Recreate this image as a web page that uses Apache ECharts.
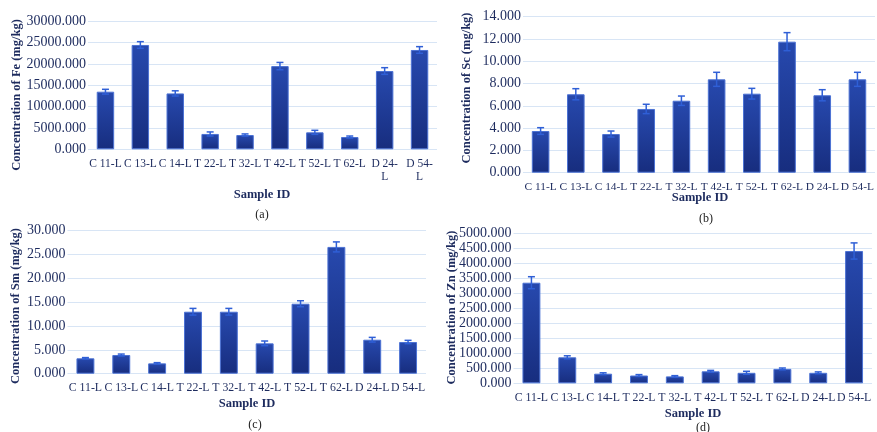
<!DOCTYPE html>
<html>
<head>
<meta charset="utf-8">
<script src="https://cdn.jsdelivr.net/npm/echarts@6/dist/echarts.min.js"></script>
<style>html,body{margin:0;padding:0;background:#fff}#c{width:877px;height:432px}</style>
</head>
<body>
<div id="c"></div>
<script>
const categories = ['C 11-L','C 13-L','C 14-L','T 22-L','T 32-L','T 42-L','T 52-L','T 62-L','D 24-L','D 54-L'];

const feValues = [13500, 24450, 13100, 3600, 3350, 19500, 3980, 2880, 18350, 23280];
const feErrors = [560, 780, 610, 470, 250, 860, 470, 230, 780, 780];

const scValues = [3.74, 7.04, 3.47, 5.72, 6.46, 8.38, 7.09, 11.76, 6.95, 8.38];
const scErrors = [0.30, 0.50, 0.27, 0.42, 0.42, 0.63, 0.48, 0.81, 0.50, 0.63];

const smValues = [3.23, 3.92, 2.17, 13.0, 13.0, 6.37, 14.68, 26.6, 7.13, 6.65];
const smErrors = [0.15, 0.20, 0.15, 0.70, 0.70, 0.49, 0.63, 1.05, 0.49, 0.35];

const znValues = [3353, 867, 320, 260, 230, 400, 350, 480, 350, 4410];
const znErrors = [200, 50, 30, 30, 25, 30, 50, 30, 30, 270];

const yTitles = ['Concentration of Fe (mg/kg)', 'Concentration of Sc (mg/kg)', 'Concentration of Sm (mg/kg)', 'Concentration of Zn (mg/kg)'];
const panelLabels = ['(a)', '(b)', '(c)', '(d)'];
const xTitle = 'Sample ID';

const panels = [
  {vals: feValues, errs: feErrors, max: 30000, interval: 5000, grid: {left: 88, top: 21.3, width: 349, height: 128}, wrap: true, catFont: 11.5},
  {vals: scValues, errs: scErrors, max: 14, interval: 2, grid: {left: 523, top: 16.7, width: 353, height: 156}, wrap: false, catFont: 11.4},
  {vals: smValues, errs: smErrors, max: 30, interval: 5, grid: {left: 67.5, top: 230.7, width: 358.5, height: 143}, wrap: false, catFont: 11.8},
  {vals: znValues, errs: znErrors, max: 5000, interval: 500, grid: {left: 513.5, top: 233.3, width: 358.5, height: 150}, wrap: false, catFont: 11.8}
];

const FONT = '"Liberation Serif", "Times New Roman", serif';
const TXT = '#1d2b5e';

const grids = [], xAxes = [], yAxes = [], series = [];
panels.forEach((p, i) => {
  grids.push(Object.assign({containLabel: false}, p.grid));
  xAxes.push({
    type: 'category', gridIndex: i, data: categories,
    axisLine: {show: false}, axisTick: {show: false},
    axisLabel: {
      interval: 0, margin: 8, color: TXT, fontFamily: FONT, fontSize: p.catFont, lineHeight: 13,
      formatter: p.wrap ? (v => v.startsWith('D') ? v.replace('-L', '-\nL') : v) : null
    }
  });
  yAxes.push({
    type: 'value', gridIndex: i, min: 0, max: p.max, interval: p.interval,
    axisLine: {show: false}, axisTick: {show: false},
    splitLine: {lineStyle: {color: '#d8e5f5', width: 1}},
    axisLabel: {margin: 2, color: TXT, fontFamily: FONT, fontSize: 14, formatter: v => v.toFixed(3)}
  });
  series.push({
    type: 'bar', xAxisIndex: i, yAxisIndex: i, data: p.vals, barWidth: '50%',
    itemStyle: {
      color: new echarts.graphic.LinearGradient(0, 0, 0, 1, [
        {offset: 0, color: '#2749ae'}, {offset: 1, color: '#172d7e'}
      ]),
      borderColor: '#4c72d4', borderWidth: 1
    },
    silent: true
  });
  series.push({
    type: 'custom', xAxisIndex: i, yAxisIndex: i, silent: true, z: 5,
    data: p.vals.map((v, k) => [k, v - p.errs[k], v + p.errs[k]]),
    renderItem: (params, api) => {
      const lo = api.coord([api.value(0), api.value(1)]);
      const hi = api.coord([api.value(0), api.value(2)]);
      const h = 3.5;
      const st = {stroke: '#2f5fd6', lineWidth: 1.5};
      return {type: 'group', children: [
        {type: 'line', shape: {x1: lo[0], y1: lo[1], x2: hi[0], y2: hi[1]}, style: st},
        {type: 'line', shape: {x1: lo[0] - h, y1: lo[1], x2: lo[0] + h, y2: lo[1]}, style: st},
        {type: 'line', shape: {x1: hi[0] - h, y1: hi[1], x2: hi[0] + h, y2: hi[1]}, style: st}
      ]};
    }
  });
});

const yTitlePos = [[17, 95], [467, 88], [16, 306], [452, 307.5]];
const xTitlePos = [[262, 195], [700, 198], [247, 404], [693, 414]];
const panelLabelPos = [[262, 215], [706, 219], [255, 425], [703, 428]];

const graphic = [];
for (let i = 0; i < 4; i++) {
  graphic.push({type: 'text', x: yTitlePos[i][0], y: yTitlePos[i][1], rotation: Math.PI / 2,
    style: {text: yTitles[i], font: 'bold 12.5px ' + FONT, fill: TXT, align: 'center', verticalAlign: 'middle', textAlign: 'center', textVerticalAlign: 'middle'}});
  graphic.push({type: 'text', x: xTitlePos[i][0], y: xTitlePos[i][1],
    style: {text: xTitle, font: 'bold 12.5px ' + FONT, fill: TXT, align: 'center', verticalAlign: 'middle', textAlign: 'center', textVerticalAlign: 'middle'}});
  graphic.push({type: 'text', x: panelLabelPos[i][0], y: panelLabelPos[i][1],
    style: {text: panelLabels[i], font: '12px ' + FONT, fill: '#222', align: 'center', verticalAlign: 'middle', textAlign: 'center', textVerticalAlign: 'middle'}});
}

const chart = echarts.init(document.getElementById('c'), null, {renderer: 'canvas'});
chart.setOption({
  animation: false,
  backgroundColor: '#ffffff',
  grid: grids, xAxis: xAxes, yAxis: yAxes, series: series, graphic: graphic
});
</script>
</body>
</html>
